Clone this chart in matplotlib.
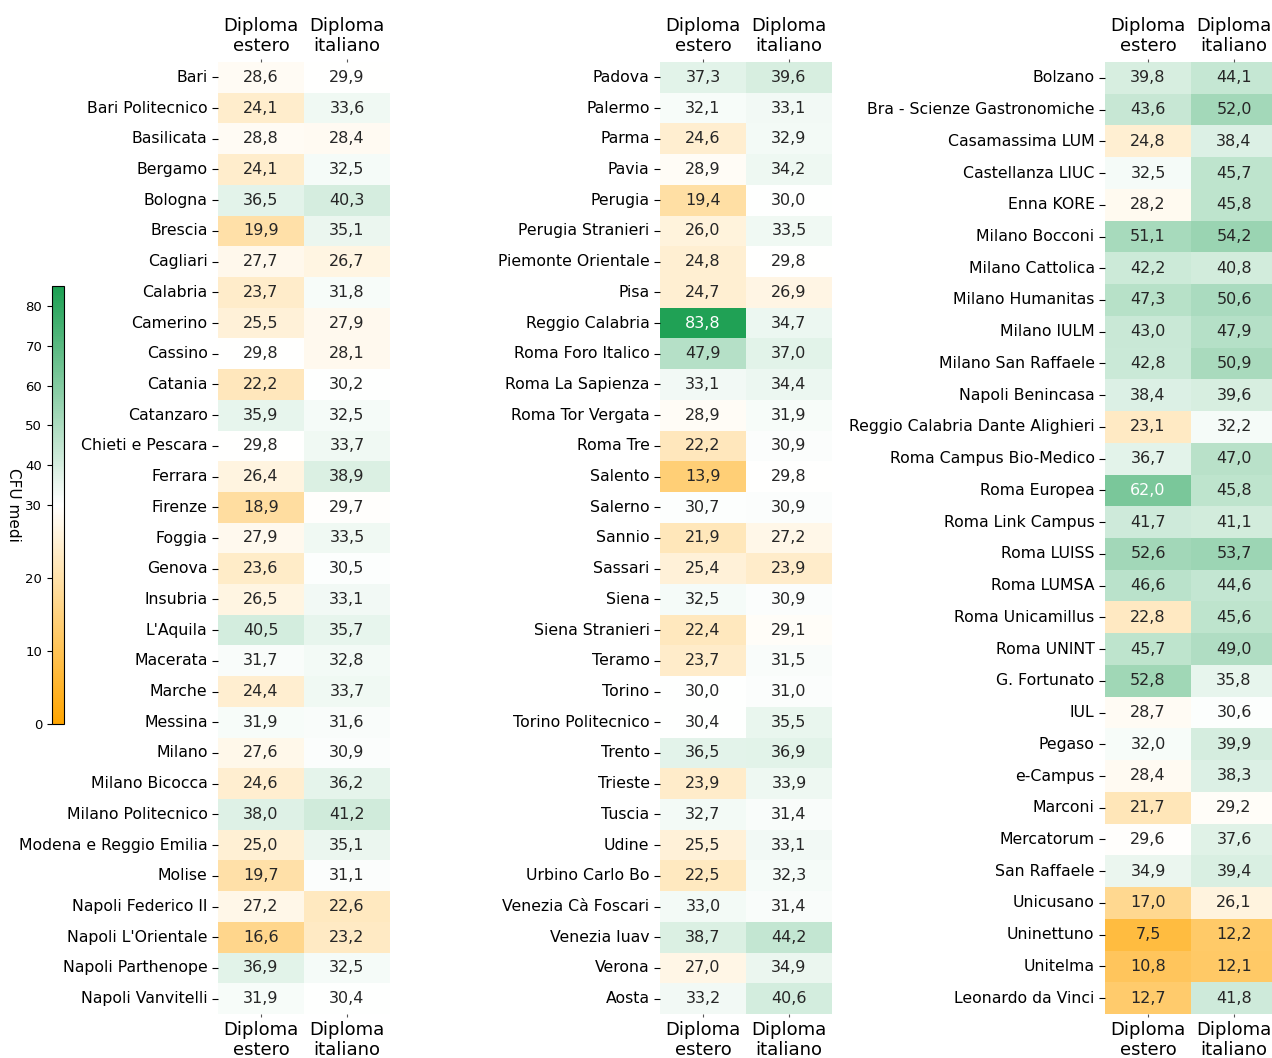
import numpy as np
import matplotlib
matplotlib.use("Agg")
import matplotlib.pyplot as plt
import seaborn as sns
from matplotlib.colors import LinearSegmentedColormap, TwoSlopeNorm
from matplotlib.cm import ScalarMappable

columns = ["Diploma\nestero", "Diploma\nitaliano"]

atenei_1 = ["Bari", "Bari Politecnico", "Basilicata", "Bergamo", "Bologna", "Brescia",
            "Cagliari", "Calabria", "Camerino", "Cassino", "Catania", "Catanzaro",
            "Chieti e Pescara", "Ferrara", "Firenze", "Foggia", "Genova", "Insubria",
            "L'Aquila", "Macerata", "Marche", "Messina", "Milano", "Milano Bicocca",
            "Milano Politecnico", "Modena e Reggio Emilia", "Molise", "Napoli Federico II",
            "Napoli L'Orientale", "Napoli Parthenope", "Napoli Vanvitelli"]
estero_1 = [28.6, 24.1, 28.8, 24.1, 36.5, 19.9, 27.7, 23.7, 25.5, 29.8, 22.2, 35.9,
            29.8, 26.4, 18.9, 27.9, 23.6, 26.5, 40.5, 31.7, 24.4, 31.9, 27.6, 24.6,
            38.0, 25.0, 19.7, 27.2, 16.6, 36.9, 31.9]
italiano_1 = [29.9, 33.6, 28.4, 32.5, 40.3, 35.1, 26.7, 31.8, 27.9, 28.1, 30.2, 32.5,
              33.7, 38.9, 29.7, 33.5, 30.5, 33.1, 35.7, 32.8, 33.7, 31.6, 30.9, 36.2,
              41.2, 35.1, 31.1, 22.6, 23.2, 32.5, 30.4]

atenei_2 = ["Padova", "Palermo", "Parma", "Pavia", "Perugia", "Perugia Stranieri",
            "Piemonte Orientale", "Pisa", "Reggio Calabria", "Roma Foro Italico",
            "Roma La Sapienza", "Roma Tor Vergata", "Roma Tre", "Salento", "Salerno",
            "Sannio", "Sassari", "Siena", "Siena Stranieri", "Teramo", "Torino",
            "Torino Politecnico", "Trento", "Trieste", "Tuscia", "Udine",
            "Urbino Carlo Bo", "Venezia Cà Foscari", "Venezia Iuav", "Verona", "Aosta"]
estero_2 = [37.3, 32.1, 24.6, 28.9, 19.4, 26.0, 24.8, 24.7, 83.8, 47.9, 33.1, 28.9,
            22.2, 13.9, 30.7, 21.9, 25.4, 32.5, 22.4, 23.7, 30.0, 30.4, 36.5, 23.9,
            32.7, 25.5, 22.5, 33.0, 38.7, 27.0, 33.2]
italiano_2 = [39.6, 33.1, 32.9, 34.2, 30.0, 33.5, 29.8, 26.9, 34.7, 37.0, 34.4, 31.9,
              30.9, 29.8, 30.9, 27.2, 23.9, 30.9, 29.1, 31.5, 31.0, 35.5, 36.9, 33.9,
              31.4, 33.1, 32.3, 31.4, 44.2, 34.9, 40.6]

atenei_3 = ["Bolzano", "Bra - Scienze Gastronomiche", "Casamassima LUM", "Castellanza LIUC",
            "Enna KORE", "Milano Bocconi", "Milano Cattolica", "Milano Humanitas",
            "Milano IULM", "Milano San Raffaele", "Napoli Benincasa",
            "Reggio Calabria Dante Alighieri", "Roma Campus Bio-Medico", "Roma Europea",
            "Roma Link Campus", "Roma LUISS", "Roma LUMSA", "Roma Unicamillus",
            "Roma UNINT", "G. Fortunato", "IUL", "Pegaso", "e-Campus", "Marconi",
            "Mercatorum", "San Raffaele", "Unicusano", "Uninettuno", "Unitelma",
            "Leonardo da Vinci"]
estero_3 = [39.8, 43.6, 24.8, 32.5, 28.2, 51.1, 42.2, 47.3, 43.0, 42.8, 38.4, 23.1,
            36.7, 62.0, 41.7, 52.6, 46.6, 22.8, 45.7, 52.8, 28.7, 32.0, 28.4, 21.7,
            29.6, 34.9, 17.0, 7.5, 10.8, 12.7]
italiano_3 = [44.1, 52.0, 38.4, 45.7, 45.8, 54.2, 40.8, 50.6, 47.9, 50.9, 39.6, 32.2,
              47.0, 45.8, 41.1, 53.7, 44.6, 45.6, 49.0, 35.8, 30.6, 39.9, 38.3, 29.2,
              37.6, 39.4, 26.1, 12.2, 12.1, 41.8]

cbar_ticks = [0, 10, 20, 30, 40, 50, 60, 70, 80]

W, H = 1272, 1058
fig = plt.figure(figsize=(W / 100, H / 100), dpi=100)


def px_axes(x0, y0, x1, y1):
    return fig.add_axes([x0 / W, 1 - y1 / H, (x1 - x0) / W, (y1 - y0) / H])


cmap = LinearSegmentedColormap.from_list("cfu", ["#ffa500", "#ffffff", "#1c9f52"])
norm = TwoSlopeNorm(vmin=0, vcenter=30, vmax=85)

panels = [(atenei_1, estero_1, italiano_1, 218),
          (atenei_2, estero_2, italiano_2, 660),
          (atenei_3, estero_3, italiano_3, 1105)]

for names, est, ita, x0 in panels:
    ax = px_axes(x0, 62, x0 + 172, 1014)
    data = np.column_stack([est, ita])
    annot = np.array([[f"{v:.1f}".replace(".", ",") for v in row] for row in data])
    sns.heatmap(data, ax=ax, cmap=cmap, norm=norm, annot=annot, fmt="", cbar=False,
                xticklabels=columns, yticklabels=names,
                annot_kws={"fontsize": 11.5})
    # white annotation on the darkest cells
    for txt in ax.texts:
        val = float(txt.get_text().replace(",", "."))
        txt.set_color("white" if val >= 60 else "#262626")
    ax.tick_params(axis="x", top=True, labeltop=True, bottom=True, labelbottom=True,
                   labelsize=13, rotation=0, length=2, color="#555555", pad=3)
    ax.tick_params(axis="y", labelsize=11.3, rotation=0, length=4)
    for lab in ax.get_xticklabels():
        lab.set_linespacing(1.15)

cax = px_axes(52, 286, 64, 724)
sm = ScalarMappable(norm=norm, cmap=cmap)
cb = fig.colorbar(sm, cax=cax, ticks=cbar_ticks)
cax.yaxis.set_ticks_position("left")
cax.yaxis.set_label_position("left")
cax.tick_params(labelsize=9.5)
cb.set_label("CFU medi", rotation=270, fontsize=11, labelpad=14)

fig.savefig("out.png", dpi=100)
